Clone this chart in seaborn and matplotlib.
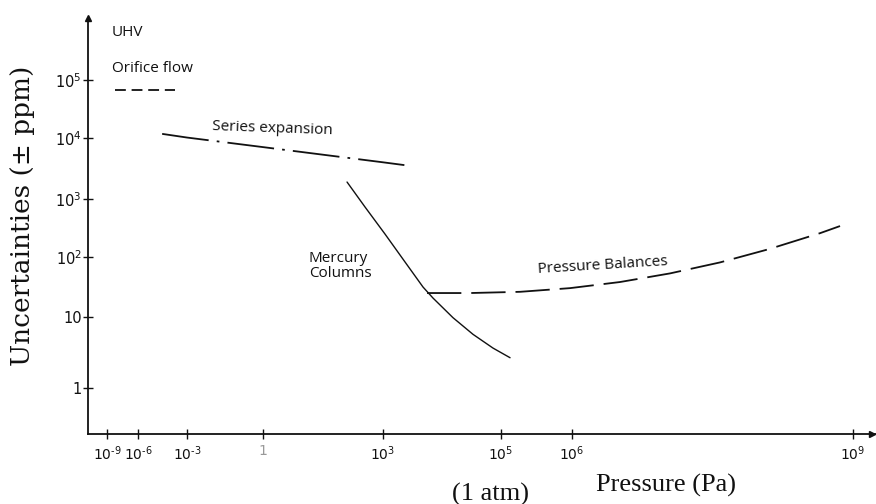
import numpy as np
import matplotlib
matplotlib.use("Agg")
import matplotlib.pyplot as plt
from matplotlib.ticker import FixedLocator, NullLocator
import seaborn as sns

# Pressure (Pa) and uncertainty (± ppm) covered by each primary standard
orifice_p = [5.9e-9, 1.9e-4]
orifice_u = [6.7e4, 6.7e4]

series_p = [3.0e-5, 1.0e-3, 1.0, 1.0e3, 2.3e3]
series_u = [1.18e4, 1.02e4, 7.1e3, 4.0e3, 3.6e3]

mercury_p = [126, 355, 1080, 2360, 4760, 7030, 1.53e4, 3.35e4, 7.31e4, 1.34e5]
mercury_u = [1900, 728, 249, 82.6, 31.6, 20.7, 9.8, 5.7, 3.65, 2.67]

balance_p = [5.57e3, 2.99e4, 1.85e5, 9.38e5, 3.25e6, 1.11e7, 3.8e7, 1.27e8,
             4.45e8, 7.26e8]
balance_u = [25.1, 25.1, 26.3, 30.3, 38.3, 53.3, 81.3, 137, 258, 342]

x_ticks = [1e-9, 1e-6, 1e-3, 1, 1e3, 1e5, 1e6, 1e9]
x_labels = [r"$10^{\text{-}9}$", r"$10^{\text{-}6}$", r"$10^{\text{-}3}$", "1",
            r"$10^{3}$", r"$10^{5}$", r"$10^{6}$", r"$10^{9}$"]
y_ticks = [1, 10, 1e2, 1e3, 1e4, 1e5]
y_labels = ["1", "10", r"$10^{2}$", r"$10^{3}$", r"$10^{4}$", r"$10^{5}$"]

# Hand-drawn, uneven decade spacing of the original figure
X_DEC = [-12, -9, -6, -3, 0, 3, 5, 6, 9, 12]
X_POS = [76, 107, 138, 187, 263, 383, 501, 572, 853, 1134]
Y_DEC = [-2, 0, 1, 2, 3, 4, 5, 8]
Y_POS = [-530, -388, -317, -257, -199, -138, -80, 94]


def _fwd(knots, pos):
    def f(v):
        v = np.clip(np.asarray(v, dtype=float), 1e-300, None)
        return np.interp(np.log10(v), knots, pos)
    return f


def _inv(knots, pos):
    def f(p):
        return 10.0 ** np.interp(np.asarray(p, dtype=float), pos, knots)
    return f


sns.set_style("white")
plt.rcParams["font.family"] = ["DejaVu Sans"]
plt.rcParams["mathtext.fontset"] = "dejavusans"

fig = plt.figure(figsize=(8.76, 5.04), dpi=100)
ax = fig.add_axes([88 / 876, 70 / 504, 788 / 876, 416 / 504])
ax.set_xscale("function", functions=(_fwd(X_DEC, X_POS), _inv(X_DEC, X_POS)))
ax.set_yscale("function", functions=(_fwd(Y_DEC, Y_POS), _inv(Y_DEC, Y_POS)))
ax.set_xlim(10 ** -10.84, 10 ** 9.245)
ax.set_ylim(10 ** -0.648, 10 ** 6.07)

lw = 1.3
ink = "#111111"
sns.lineplot(x=orifice_p, y=orifice_u, ax=ax, color=ink, lw=lw,
             linestyle=(0, (6.0, 3.2)))
sns.lineplot(x=series_p, y=series_u, ax=ax, color=ink, lw=lw,
             linestyle=(0, (26, 4.5, 1.5, 4.5)))
sns.lineplot(x=mercury_p, y=mercury_u, ax=ax, color=ink, lw=1.0)
sns.lineplot(x=balance_p, y=balance_u, ax=ax, color=ink, lw=lw,
             linestyle=(0, (19, 5.5)))

ann = dict(family="Open Sans", fontsize=11, color=ink)
ax.text(3e-9, 6.7e5, "UHV", va="center", ha="left", **ann)
ax.text(3e-9, 1.6e5, "Orifice flow", va="center", ha="left", **ann)
ax.text(1e-2, 1.55e4, "Series expansion", va="center", ha="left",
        rotation=-2, rotation_mode="anchor", **ann)
ax.text(14, 70, "Mercury\nColumns", va="center", ha="left",
        linespacing=1.0, **ann)
ax.text(3.3e5, 61, "Pressure Balances", va="center", ha="left",
        rotation=3.5, rotation_mode="anchor", **ann)

# Axes: only the left and bottom lines, with arrow heads
for side in ("top", "right"):
    ax.spines[side].set_visible(False)
for side in ("left", "bottom"):
    ax.spines[side].set_linewidth(1.3)
    ax.spines[side].set_color(ink)
ax.plot(0, 1, marker="^", ms=4, color=ink, transform=ax.transAxes,
        clip_on=False)
ax.plot(0.995, 0, marker=">", ms=4, color=ink, transform=ax.transAxes,
        clip_on=False)

ax.xaxis.set_major_locator(FixedLocator(x_ticks))
ax.xaxis.set_minor_locator(NullLocator())
ax.set_xticklabels(x_labels)
ax.yaxis.set_major_locator(FixedLocator(y_ticks))
ax.yaxis.set_minor_locator(NullLocator())
ax.set_yticklabels(y_labels)
ax.tick_params(axis="both", bottom=True, left=True, direction="inout",
               length=7, width=1.0, colors=ink, labelsize=10.5, labelcolor=ink)
ax.tick_params(axis="x", pad=4, labelsize=10)
ax.tick_params(axis="y", pad=1)

# Faint pencil ticks on the lower pressure decades
for i in (0, 1, 2, 3, 6):
    tk = ax.xaxis.get_major_ticks()[i]
    tk.tick1line.set_color("#b0b0b0")
ax.get_xticklabels()[3].set_color("#999999")

fig.text(23 / 876, 1 - 216 / 504, "Uncertainties (± ppm)",
         family="DejaVu Serif", fontsize=19, rotation=90,
         ha="center", va="center", color=ink)
fig.text(666 / 876, 1 - 485 / 504, "Pressure (Pa)", family="Liberation Serif",
         fontsize=19, ha="center", va="center", color=ink)
fig.text(491 / 876, 1 - 494 / 504, "(1 atm)", family="Liberation Serif",
         fontsize=19, ha="center", va="center", color=ink)

fig.savefig("out.png", dpi=100, facecolor="white")
